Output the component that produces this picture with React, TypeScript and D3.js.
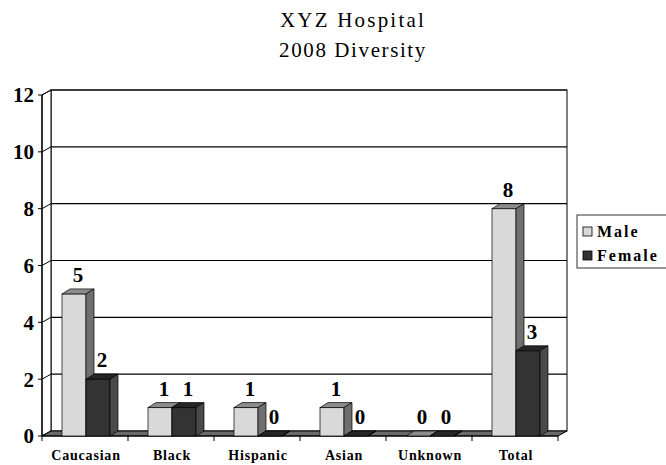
import React from 'react';
import * as d3 from 'd3';

const categories = ['Caucasian', 'Black', 'Hispanic', 'Asian', 'Unknown', 'Total'];
const seriesNames = ['Male', 'Female'];
const male = [5, 1, 1, 1, 0, 8];
const female = [2, 1, 0, 0, 0, 3];
const yTicks = [0, 2, 4, 6, 8, 10, 12];

const colors = {
  Male: { front: '#d9d9d9', top: '#8c8c8c', side: '#6f6f6f' },
  Female: { front: '#333333', top: '#262626', side: '#4a4a4a' },
};

const serif = '"Liberation Serif"';

const App = () => {
  const width = 666;
  const height = 465;

  // front plane of the plot
  const x = d3.scaleBand().domain(categories).range([42, 558]).padding(0);
  const y = d3.scaleLinear().domain([0, 12]).range([436, 95]);

  // 3d offsets
  const wdx = 9, wdy = 5; // walls
  const bdx = 8, bdy = 5; // bars

  const inner = (cat) => {
    const c = x(cat) + x.bandwidth() / 2;
    return d3.scaleBand().domain(seriesNames).range([c - 23, c + 25]);
  };

  const values = { Male: male, Female: female };
  const y0 = y(0);
  const left = x.range()[0];
  const right = x.range()[1];

  const bars = [];
  categories.forEach((cat, i) => {
    const s = inner(cat);
    seriesNames.forEach((name) => {
      const v = values[name][i];
      const bx = s(name);
      const w = s.bandwidth();
      const top = y(v);
      const col = colors[name];
      bars.push(
        <g key={cat + name}>
          <rect x={bx} y={top} width={w} height={y0 - top} fill={col.front} stroke="#000" strokeWidth={0.7} />
          <polygon
            points={`${bx},${top} ${bx + bdx},${top - bdy} ${bx + w + bdx},${top - bdy} ${bx + w},${top}`}
            fill={col.top} stroke="#000" strokeWidth={0.7}
          />
          <polygon
            points={`${bx + w},${top} ${bx + w + bdx},${top - bdy} ${bx + w + bdx},${y0 - bdy} ${bx + w},${y0}`}
            fill={col.side} stroke="#000" strokeWidth={0.7}
          />
          <text
            x={bx + w / 2 + bdx / 2} y={top - bdy - 7}
            textAnchor="middle" style={{ fontFamily: serif, fontWeight: 'bold', fontSize: 21 }}
          >{v}</text>
        </g>
      );
    });
  });

  return (
    <svg width={width} height={height} style={{ position: 'absolute', left: 0, top: 0, background: '#fff' }}>
      {/* title */}
      <text x={353} y={27} textAnchor="middle" style={{ fontFamily: serif, fontSize: 21, letterSpacing: 2.2 }}>XYZ Hospital</text>
      <text x={353} y={57} textAnchor="middle" style={{ fontFamily: serif, fontSize: 21, letterSpacing: 1.6 }}>2008 Diversity</text>

      {/* back wall */}
      <rect x={left + wdx} y={y(12) - wdy} width={right - left} height={y0 - y(12)} fill="#fff" stroke="#000" strokeWidth={1} />
      {yTicks.slice(1).map((t) => (
        <line key={'g' + t} x1={left + wdx} x2={right + wdx} y1={y(t) - wdy} y2={y(t) - wdy} stroke="#000" strokeWidth={1.2} />
      ))}

      {/* side wall */}
      <polygon
        points={`${left},${y(12)} ${left + wdx},${y(12) - wdy} ${left + wdx},${y0 - wdy} ${left},${y0}`}
        fill="#fff" stroke="#000" strokeWidth={1}
      />
      {yTicks.map((t) => (
        <g key={'t' + t}>
          <line x1={left} x2={left + wdx} y1={y(t)} y2={y(t) - wdy} stroke="#000" strokeWidth={1} />
          <line x1={left - 4} x2={left} y1={y(t)} y2={y(t)} stroke="#000" strokeWidth={1} />
          <text x={left - 8} y={y(t)} dy="0.35em" textAnchor="end" style={{ fontFamily: serif, fontWeight: 'bold', fontSize: 21 }}>{t}</text>
        </g>
      ))}

      {/* floor */}
      <polygon
        points={`${left},${y0} ${left + wdx},${y0 - wdy} ${right + wdx},${y0 - wdy} ${right},${y0}`}
        fill="#6a6a6a" stroke="#000" strokeWidth={1}
      />
      <line x1={left} x2={left} y1={y(12)} y2={y0} stroke="#000" strokeWidth={1.2} />
      <line x1={left} x2={right} y1={y0} y2={y0} stroke="#000" strokeWidth={1.2} />
      {categories.concat(['end']).map((c, i) => {
        const tx = left + i * x.bandwidth();
        return <line key={'xt' + i} x1={tx} x2={tx} y1={y0} y2={y0 + 5} stroke="#000" strokeWidth={1} />;
      })}

      {bars}

      {categories.map((c) => (
        <text key={'c' + c} x={x(c) + x.bandwidth() / 2 + 1} y={460} textAnchor="middle"
          style={{ fontFamily: serif, fontWeight: 'bold', fontSize: 14, letterSpacing: 0.8 }}>{c}</text>
      ))}

      {/* legend */}
      <rect x={577} y={215} width={92} height={53} fill="#fff" stroke="#333" strokeWidth={1} />
      {seriesNames.map((name, i) => (
        <g key={'l' + name}>
          <rect x={583} y={227 + i * 24} width={9} height={9} fill={colors[name].front} stroke="#000" strokeWidth={0.8} />
          <text x={597} y={237 + i * 24} style={{ fontFamily: serif, fontWeight: 'bold', fontSize: 16, letterSpacing: 2 }}>{name}</text>
        </g>
      ))}
    </svg>
  );
};

export default App;
